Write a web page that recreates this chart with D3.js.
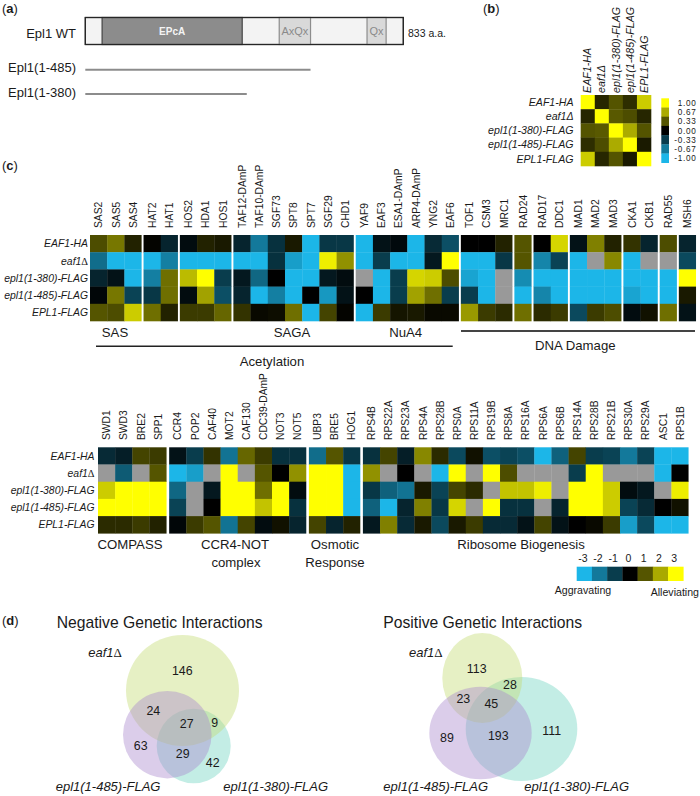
<!DOCTYPE html>
<html lang="en">
<head>
<meta charset="utf-8">
<title>Epl1 genetic interactions</title>
<style>
  html, body { margin: 0; padding: 0; background: #fff; }
  svg { display: block; }
  text { font-family: "Liberation Sans", Arial, sans-serif; fill: #1a1a1a; }
  .it { font-style: italic; }
  .serif { font-family: "Liberation Serif", serif; font-style: normal; }
</style>
</head>
<body>
<svg id="chart" width="700" height="796"></svg>
<script src="https://cdn.jsdelivr.net/npm/d3@7"></script>
<script>
// ---- panel (a) domains, in amino acids
var proteinLength = 833;
var domainNames = ['EPcA', 'AxQx', 'Qx'];
var domainStarts = [44, 508, 738];
var domainEnds = [411, 590, 788];
var truncNames = ['Epl1(1-485)', 'Epl1(1-380)'];
var truncEnds = [590, 423];

// ---- panel (b) correlation
var corrLabels = ['EAF1-HA', 'eaf1Δ', 'epl1(1-380)-FLAG', 'epl1(1-485)-FLAG', 'EPL1-FLAG'];
var corrRow1 = [1, 0.15, 0.33, 0.18, 0.8];
var corrRow2 = [0.15, 1, 0.35, 0.3, 0.15];
var corrRow3 = [0.33, 0.35, 1, 0.67, 0.33];
var corrRow4 = [0.18, 0.3, 0.67, 1, 0.1];
var corrRow5 = [0.8, 0.15, 0.33, 0.1, 1];
var corrTicks = ['1.00', '0.67', '0.33', '0.00', '-0.33', '-0.67', '-1.00'];
var corrTickValues = [1, 0.67, 0.33, 0, -0.33, -0.67, -1];

// ---- panel (c) heatmaps, null = no data (grey)
var strains = ['EAF1-HA', 'eaf1Δ', 'epl1(1-380)-FLAG', 'epl1(1-485)-FLAG', 'EPL1-FLAG'];

var genesTop = ['SAS2','SAS5','SAS4','HAT2','HAT1','HOS2','HDA1','HOS1','TAF12-DAmP','TAF10-DAmP','SGF73','SPT8','SPT7','SGF29','CHD1',
  'YAF9','EAF3','ESA1-DAmP','ARP4-DAmP','YNG2','EAF6','TOF1','CSM3','MRC1','RAD24','RAD17','DDC1','MAD1','MAD2','MAD3','CKA1','CKB1','RAD55','MSH6'];
var groupSizesTop = [3, 2, 3, 7, 6, 3, 1, 2, 3, 2, 1, 1];
var top1 = [0.9,1.4,0.4,0.05,-0.6,-0.2,0.4,0.3,-0.6,-2,-0.8,0.3,-3,-0.9,-0.9,-3,-0.3,-0.15,-3,-0.7,-1.3,0,0,0.4,1,0,2.5,-0.3,1.5,0.4,0.6,-0.6,0.9,-0.6];
var top2 = [-1.8,-3,-3,-3,-2.1,-3,-3,-3,-3,-3,-0.8,-2.6,-3,2.8,1.7,-3,-1,-3,-3,-0.4,3,-3,-3,-0.9,1,-2.2,-1.1,-3,null,1.6,-3,null,null,-1.2];
var top3 = [-0.6,-0.3,-3,-2.1,1.3,2.2,3,-1,-0.4,-1.7,0,-3,-3,-0.4,-0.2,null,-3,-1,2.5,2.4,0.9,-2.7,-3,null,-2.3,-3,-3,-3,-3,-3,-3,-3,-3,3];
var top4 = [-0.1,1.4,-1.1,-0.9,1.3,-0.2,1.9,-1.3,-0.6,-3,-2.1,-3,0,-2.5,-0.3,0,-3,-1,1.9,1.3,-1,-1,-3,null,-3,-2.2,-3,-3,-3,-3,-2.7,-3,-3,0.3];
var top5 = [1,0.9,2.4,1.3,0.4,0.7,0.7,1.2,0.6,0.1,0.15,1.3,-3,0.8,0.05,-3,0.7,0.25,0.3,0.1,0.1,1.8,0.7,0.5,1.3,0.5,0.7,-1.2,0.7,0.9,-0.2,0.2,1.3,-0.3];

var genesBottom = ['SWD1','SWD3','BRE2','SPP1','CCR4','POP2','CAF40','MOT2','CAF130','CDC39-DAmP','NOT3','NOT5','UBP3','BRE5','HOG1',
  'RPS4B','RPS22A','RPS23A','RPS4A','RPS28B','RPS0A','RPS11A','RPS19B','RPS8A','RPS16A','RPS6A','RPS6B','RPS14A','RPS28B','RPS21B','RPS30A','RPS29A','ASC1','RPS1B'];
var groupSizesBottom = [4, 8, 3, 19];
var bottom1 = [-0.7,-0.5,0.8,0.7,-0.3,-1,0.6,-1.9,1.2,0.7,-0.8,-0.8,-1.8,1,-0.9,-0.8,0.8,-0.5,1.6,0.5,-1.2,0.2,-1.3,-1.1,-1.3,-3,-1.6,0.8,-1,-1.1,-2,-1.1,-3,-3];
var bottom2 = [null,-1.5,null,1,-3,-2.6,null,3,null,1,0,1.7,3,3,-3,1.7,null,0,null,-3,3,null,3,0.9,null,null,null,-1,3,null,null,null,-3,0];
var bottom3 = [2.4,3,3,3,-1.7,null,-0.4,3,3,1.3,3,-0.2,3,3,-3,-0.9,-1.6,-1.9,0.3,-1.1,0.8,0.5,null,2.3,2.3,2.8,null,3,3,2.4,-0.2,-0.4,null,2.8];
var bottom4 = [3,3,3,3,-1.1,null,0,3,3,2.3,3,-0.8,3,3,-3,-1.6,-3,-0.6,1.5,-0.9,2.5,null,3,-0.8,-0.8,null,-0.6,3,3,2.4,-1.1,-0.7,0,0.2];
var bottom5 = [0.5,0.5,0.7,0.4,-0.1,0.7,1,-1.9,0.8,-0.2,0.2,-0.6,0.8,-0.6,0.4,-0.4,1.5,-0.7,0.3,-1.2,0.3,0.7,-0.7,-0.7,-0.3,0.8,-0.3,0,0.1,0.7,-2.6,-1.2,-3,-3];

var scoreTicks = [-3, -2, -1, 0, 1, 2, 3];

// ---- panel (d) venn counts
var negCounts = [146, 24, 27, 9, 63, 29, 42];
var posCounts = [113, 28, 23, 45, 89, 193, 111];

var svg = d3.select('#chart');

var blueBlackYellow = d3.scaleLinear()
  .domain([-3, 0, 3])
  .range(['#1cb6e8', '#000000', '#ffff00']);
var corrColour = d3.scaleLinear()
  .domain([-1, 0, 1])
  .range(['#1cb6e8', '#000000', '#ffff00']);

function panelLabel(x, y, letter) {
  var t = svg.append('text').attr('x', x).attr('y', y).style('font-size', '13px');
  t.append('tspan').text('(');
  t.append('tspan').style('font-weight', 700).text(letter);
  t.append('tspan').text(')');
}

function label(x, y, txt, size, anchor, cls) {
  return svg.append('text')
    .attr('x', x).attr('y', y)
    .attr('text-anchor', anchor || 'start')
    .attr('class', cls || null)
    .style('font-size', size + 'px')
    .text(txt);
}

// strain names, eaf1 delta gets an upright serif delta in some panels
function strainLabel(sel, name, serifDelta) {
  if (serifDelta && name.indexOf('Δ') >= 0) {
    sel.text(null);
    sel.append('tspan').text(name.replace('Δ', ''));
    sel.append('tspan').attr('class', 'serif').text('Δ');
  } else {
    sel.text(name);
  }
}

// ---- (a)
panelLabel(2, 13, 'a');
var aa = d3.scaleLinear().domain([0, proteinLength]).range([85.3, 403.3]);
svg.append('rect').attr('x', aa(0)).attr('y', 17.5).attr('width', aa(proteinLength) - aa(0)).attr('height', 27)
  .attr('fill', '#f3f3f3').attr('stroke', '#262626').attr('stroke-width', 1.2);
domainNames.forEach(function(name, i) {
  var big = i == 0;
  svg.append('rect').attr('x', aa(domainStarts[i])).attr('y', 17.5)
    .attr('width', aa(domainEnds[i]) - aa(domainStarts[i])).attr('height', 27)
    .attr('fill', big ? '#8c8c8c' : '#d9d9d9')
    .attr('stroke', big ? '#444' : '#8c8c8c').attr('stroke-width', 1.2);
  svg.append('text').attr('x', (aa(domainStarts[i]) + aa(domainEnds[i])) / 2).attr('y', 35)
    .attr('text-anchor', 'middle')
    .style('font-size', big ? '10px' : '11px')
    .style('font-weight', big ? 700 : 400)
    .style('fill', big ? '#f4f4f4' : '#8a8a8a')
    .text(name);
});
svg.append('rect').attr('x', aa(0)).attr('y', 17.5).attr('width', aa(proteinLength) - aa(0)).attr('height', 27)
  .attr('fill', 'none').attr('stroke', '#262626').attr('stroke-width', 1.2);
label(76, 38, 'Epl1 WT', 13, 'end');
label(408, 37, proteinLength + ' a.a.', 10.5);
truncNames.forEach(function(name, i) {
  var y = [69.7, 94][i];
  label(76, y + 2.5, name, 13, 'end');
  svg.append('line').attr('x1', aa(0)).attr('x2', aa(truncEnds[i])).attr('y1', y).attr('y2', y)
    .attr('stroke', '#8c8c8c').attr('stroke-width', 2);
});

// ---- (b)
panelLabel(483, 13, 'b');
var corrRows = [corrRow1, corrRow2, corrRow3, corrRow4, corrRow5];
var bx = d3.scaleBand().domain(d3.range(5)).range([580.7, 651]);
var by = d3.scaleBand().domain(d3.range(5)).range([95, 166]);
var bg = svg.append('g');
corrRows.forEach(function(row, r) {
  bg.selectAll(null).data(row).enter().append('rect')
    .attr('x', function(d, c) { return bx(c); })
    .attr('y', by(r))
    .attr('width', bx.bandwidth() + 0.3)
    .attr('height', by.bandwidth() + 0.3)
    .attr('fill', function(d) { return corrColour(d); });
  label(573.5, by(r) + by.bandwidth() / 2 + 3.7, corrLabels[r], 10.6, 'end', 'it');
  label(0, 0, corrLabels[r], 10.7, 'start', 'it')
    .attr('transform', 'translate(' + (bx(r) + bx.bandwidth() / 2 + 3.7) + ',93) rotate(-90)');
});
var bl = d3.scaleBand().domain(corrTicks).range([98.3, 162.7]);
svg.selectAll('.corrkey').data(corrTicks).enter().append('rect')
  .attr('class', 'corrkey')
  .attr('x', 661.3).attr('width', 7.7)
  .attr('y', function(d) { return bl(d); })
  .attr('height', bl.bandwidth() + 0.3)
  .attr('fill', function(d, i) { return corrColour(corrTickValues[i]); });
svg.selectAll('.corrkeytext').data(corrTicks).enter().append('text')
  .attr('class', 'corrkeytext')
  .attr('x', 696.5).attr('text-anchor', 'end')
  .attr('y', function(d) { return bl(d) + bl.bandwidth() / 2 + 3; })
  .style('font-size', '8.2px')
  .style('letter-spacing', '0.7px')
  .text(function(d) { return d; });

// ---- (c)
panelLabel(2, 170, 'c');

function drawHeat(opts) {
  var n = opts.genes.length;
  var x = d3.scaleBand().domain(d3.range(n)).range([0, n * opts.cell]);
  var y = d3.scaleBand().domain(d3.range(strains.length)).range([opts.top, opts.top + opts.height]);
  var g = svg.append('g').attr('transform', 'translate(' + opts.left + ',0)');
  var start = 0;
  opts.groups.forEach(function(size, gi) {
    var cols = d3.range(start, start + size);
    var gg = g.append('g').attr('transform', 'translate(' + (gi * opts.gap) + ',0)');
    opts.rows.forEach(function(row, r) {
      gg.selectAll(null).data(cols).enter().append('rect')
        .attr('x', function(c) { return x(c); })
        .attr('y', y(r))
        .attr('width', function(c, i) { return x.bandwidth() + (i < size - 1 ? 0.3 : 0); })
        .attr('height', y.bandwidth() + 0.3)
        .attr('fill', function(c) { return row[c] === null ? '#999999' : blueBlackYellow(row[c]); });
    });
    // gene names along the top
    var axis = d3.axisTop(x).tickValues(cols).tickSize(0).tickPadding(0)
      .tickFormat(function(c) { return opts.genes[c]; });
    var ax = gg.append('g').attr('transform', 'translate(0,' + opts.labelBase + ')').call(axis);
    ax.select('.domain').remove();
    ax.selectAll('text')
      .attr('transform', 'rotate(-90)')
      .attr('text-anchor', 'start')
      .attr('x', 0).attr('y', 0).attr('dy', '0.36em')
      .style('font-family', '"Liberation Sans", Arial, sans-serif')
      .style('font-size', '10.3px');
    start += size;
  });
  strains.forEach(function(name, r) {
    var t = label(opts.rowRight, y(r) + y.bandwidth() / 2 + 3.7, name, 10.4, 'end', 'it');
    strainLabel(t, name, true);
  });
}

drawHeat({ genes: genesTop, groups: groupSizesTop, rows: [top1, top2, top3, top4, top5],
  left: 90, cell: 17.2, gap: 1.93, top: 235, height: 86, labelBase: 228, rowRight: 88 });
drawHeat({ genes: genesBottom, groups: groupSizesBottom, rows: [bottom1, bottom2, bottom3, bottom4, bottom5],
  left: 98, cell: 17.14, gap: 2.6, top: 447.3, height: 86, labelBase: 440, rowRight: 94.5 });

label(115, 337, 'SAS', 13.2, 'middle');
label(292, 337, 'SAGA', 13.2, 'middle');
label(405.7, 337, 'NuA4', 13.2, 'middle');
label(272, 365.7, 'Acetylation', 13.2, 'middle');
label(575.3, 350, 'DNA Damage', 13.2, 'middle');
svg.append('line').attr('x1', 96).attr('x2', 452.7).attr('y1', 346.3).attr('y2', 346.3)
  .attr('stroke', '#222').attr('stroke-width', 1.5);
svg.append('line').attr('x1', 461).attr('x2', 695).attr('y1', 331).attr('y2', 331)
  .attr('stroke', '#444').attr('stroke-width', 2);

label(130, 549.3, 'COMPASS', 13.2, 'middle');
label(235, 549.3, 'CCR4-NOT', 13.2, 'middle');
label(236, 567, 'complex', 13.2, 'middle');
label(335, 549.3, 'Osmotic', 13.2, 'middle');
label(335, 567, 'Response', 13.2, 'middle');
label(521, 549.3, 'Ribosome Biogenesis', 13.2, 'middle');

var keyX = d3.scaleBand().domain(scoreTicks).range([576.7, 683.3]);
svg.selectAll('.key').data(scoreTicks).enter().append('rect')
  .attr('class', 'key')
  .attr('x', function(d) { return keyX(d); })
  .attr('y', 566.7)
  .attr('width', keyX.bandwidth() + 0.3)
  .attr('height', 14.3)
  .attr('fill', function(d) { return blueBlackYellow(d); });
var keyAxis = d3.axisTop(keyX).tickSize(0).tickPadding(0);
var keyG = svg.append('g').attr('transform', 'translate(-1.5,561.7)').call(keyAxis);
keyG.select('.domain').remove();
keyG.selectAll('text').attr('y', 0).attr('dy', 0)
  .style('font-family', '"Liberation Sans", Arial, sans-serif').style('font-size', '10.5px');
label(583, 594, 'Aggravating', 10.6, 'middle');
label(650.7, 595.7, 'Alleviating', 10.6);

// ---- (d)
panelLabel(2, 625, 'd');
label(56.7, 627.7, 'Negative Genetic Interactions', 15.7);
label(383.3, 627.7, 'Positive Genetic Interactions', 15.7);

var vennFill = { teal: '#6fd4c0', green: '#c3dc72', purple: '#a987cc' };

function drawVenn(shapes, counts, spots) {
  ['teal', 'green', 'purple'].forEach(function(k) {
    var s = shapes[k];
    svg.append('ellipse')
      .attr('cx', s[0]).attr('cy', s[1]).attr('rx', s[2]).attr('ry', s[3])
      .attr('fill', vennFill[k]).attr('fill-opacity', 0.42);
  });
  counts.forEach(function(v, i) {
    label(spots[i][0], spots[i][1] + 4.4, v, 12.4, 'middle');
  });
}

drawVenn({ green: [182.5, 690.5, 56.5, 55.5], purple: [167.3, 734.7, 44.3, 43.7], teal: [193.7, 746, 37, 37.3] },
  negCounts, [[182.3,670.7],[153.3,710.7],[186.7,724],[214.7,723],[140.7,745.3],[182.7,753.3],[212.7,762.7]]);
drawVenn({ green: [482.3, 678, 40, 45], purple: [480.5, 733, 51.2, 46.3], teal: [521.5, 729, 55.8, 52] },
  posCounts, [[476.7,668.7],[510,684.3],[463.3,699],[491.3,703.3],[447,737.7],[498.3,736],[551.7,731]]);

strainLabel(label(88.3, 656.5, '', 13, 'start', 'it'), 'eaf1Δ', true);
label(55.7, 791.3, 'epl1(1-485)-FLAG', 13, 'start', 'it');
label(223.3, 791.3, 'epl1(1-380)-FLAG', 13, 'start', 'it');
strainLabel(label(409, 656.5, '', 13, 'start', 'it'), 'eaf1Δ', true);
label(383.3, 791.3, 'epl1(1-485)-FLAG', 13, 'start', 'it');
label(524.3, 791.3, 'epl1(1-380)-FLAG', 13, 'start', 'it');
</script>
</body>
</html>
